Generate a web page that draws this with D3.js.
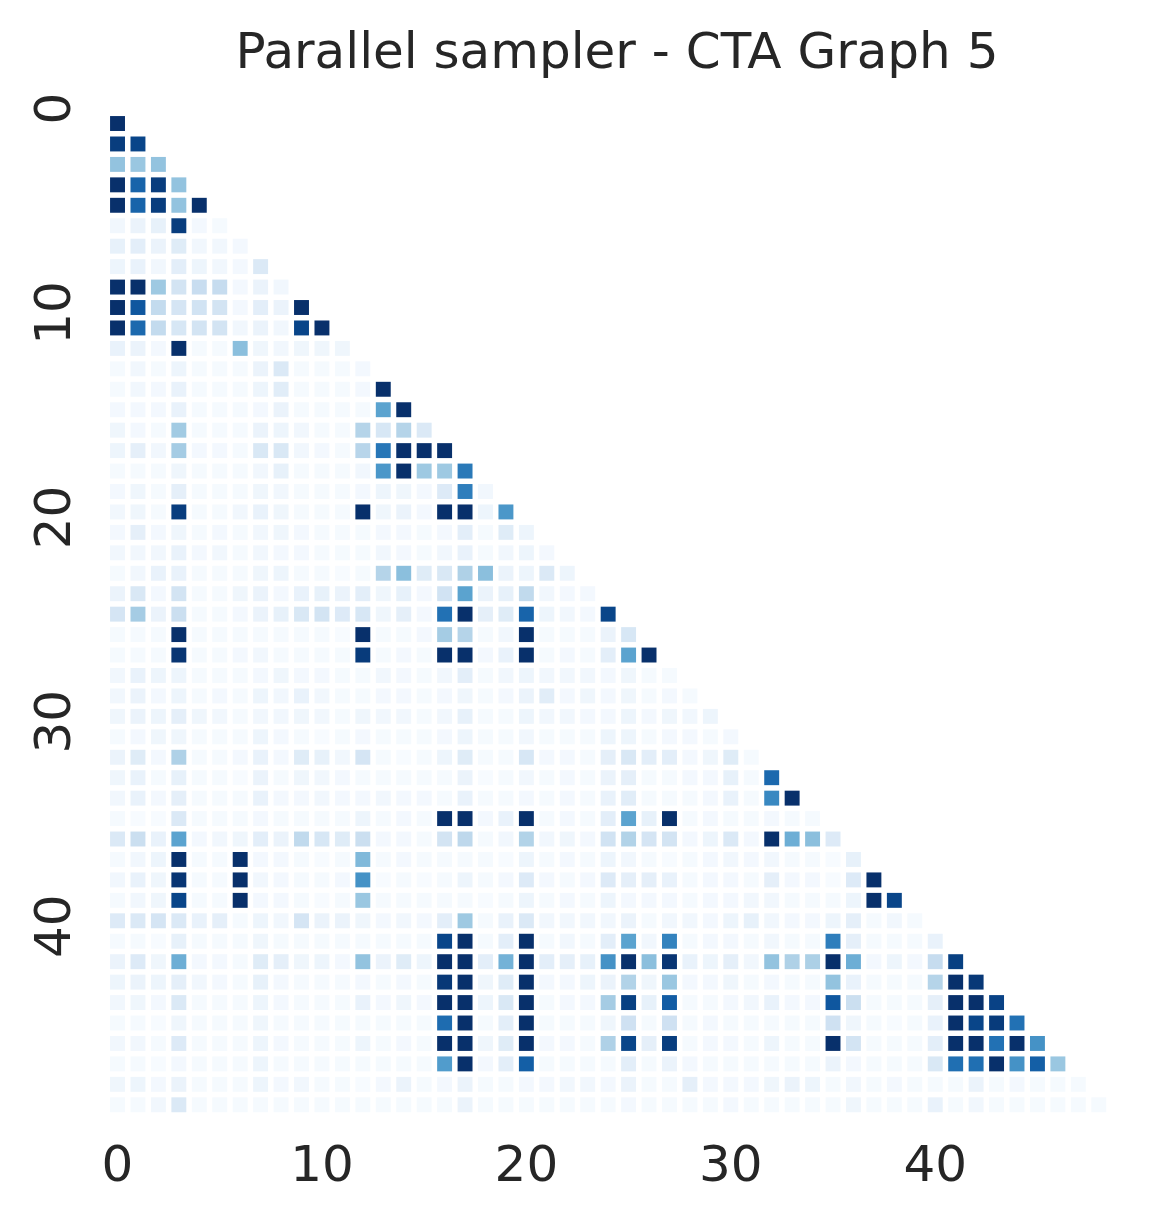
<!DOCTYPE html>
<html>
<head>
    <meta charset="utf-8" />
    <title>Parallel sampler - CTA Graph 5</title>
    <script src="https://d3js.org/d3.v7.min.js"></script>
    <style type='text/css'>
        body { margin: 0; background: #fff; }
        text { font-family: 'DejaVu Sans', sans-serif; fill: #262626; }
    </style>
</head>
<body>
<script>
    // lower triangle, row i has i+1 values (0 = white, 100 = darkest)
    var nodeIds = d3.range(49);
    var tickLabels = [0, 10, 20, 30, 40];
    var chartTitle = 'Parallel sampler - CTA Graph 5';
    var rowValues = [
        [100],
        [95, 92],
        [40, 38, 40],
        [100, 80, 95, 40],
        [100, 80, 95, 40, 100],
        [3, 6, 8, 95, 2, 1],
        [8, 10, 6, 12, 3, 3, 2],
        [5, 7, 3, 10, 5, 3, 2, 14],
        [100, 100, 37, 18, 23, 24, 2, 6, 3],
        [100, 85, 25, 17, 19, 18, 2, 10, 6, 100],
        [100, 78, 25, 16, 18, 18, 3, 6, 3, 92, 100],
        [7, 6, 2, 100, 1, 1, 42, 4, 3, 4, 4, 4],
        [1, 3, 1, 5, 1, 1, 1, 6, 14, 1, 1, 1, 2],
        [1, 3, 2, 7, 1, 1, 1, 5, 11, 1, 1, 1, 2, 100],
        [2, 2, 2, 7, 1, 1, 1, 2, 6, 1, 1, 1, 1, 55, 100],
        [4, 2, 1, 36, 1, 1, 1, 6, 5, 3, 1, 1, 30, 16, 30, 14],
        [5, 9, 3, 35, 2, 2, 1, 15, 15, 3, 2, 1, 29, 73, 100, 100, 100],
        [1, 1, 1, 4, 1, 1, 1, 3, 8, 1, 1, 1, 3, 60, 100, 37, 37, 72],
        [2, 4, 1, 9, 1, 1, 1, 4, 3, 1, 1, 1, 2, 5, 4, 2, 13, 70, 3],
        [3, 4, 1, 95, 1, 1, 3, 7, 4, 1, 1, 1, 100, 4, 6, 2, 100, 100, 5, 60],
        [2, 9, 2, 4, 1, 2, 1, 3, 4, 2, 1, 1, 1, 2, 2, 1, 2, 10, 1, 12, 5],
        [3, 3, 3, 7, 2, 3, 1, 3, 2, 2, 1, 1, 1, 3, 2, 1, 3, 7, 1, 3, 5, 2],
        [1, 3, 7, 7, 1, 1, 1, 4, 5, 1, 1, 0, 1, 30, 42, 12, 15, 32, 42, 6, 5, 14, 5],
        [6, 15, 2, 18, 1, 1, 4, 6, 2, 7, 8, 6, 10, 4, 8, 2, 19, 55, 6, 8, 26, 3, 2, 2],
        [17, 35, 6, 22, 1, 1, 2, 6, 8, 15, 18, 13, 16, 4, 9, 2, 75, 100, 9, 12, 80, 5, 3, 2, 92],
        [1, 1, 1, 100, 1, 1, 1, 1, 1, 1, 1, 0, 100, 1, 1, 2, 35, 30, 1, 3, 100, 1, 1, 1, 6, 16],
        [1, 1, 1, 98, 1, 1, 2, 3, 1, 1, 1, 1, 96, 1, 2, 1, 100, 100, 2, 7, 100, 1, 2, 1, 10, 55, 100],
        [3, 7, 5, 5, 1, 1, 1, 2, 4, 2, 2, 1, 1, 3, 2, 1, 3, 10, 1, 3, 5, 3, 3, 3, 2, 4, 1, 1],
        [3, 6, 2, 5, 1, 2, 1, 5, 3, 7, 3, 1, 1, 2, 2, 1, 2, 4, 1, 2, 6, 11, 2, 4, 2, 4, 1, 2, 1],
        [4, 6, 5, 9, 4, 3, 1, 3, 3, 4, 3, 1, 4, 3, 3, 1, 3, 8, 1, 1, 5, 3, 3, 2, 2, 5, 2, 4, 3, 5],
        [1, 2, 4, 4, 1, 1, 1, 5, 2, 1, 0, 1, 2, 1, 1, 1, 2, 5, 1, 1, 3, 1, 1, 1, 5, 5, 1, 2, 2, 1, 2],
        [6, 12, 2, 32, 1, 1, 2, 7, 2, 12, 8, 3, 17, 1, 0, 1, 5, 12, 1, 1, 16, 2, 2, 1, 9, 15, 10, 10, 2, 4, 12, 1],
        [4, 7, 1, 8, 1, 1, 0, 6, 1, 4, 3, 2, 1, 1, 1, 1, 1, 6, 0, 1, 3, 1, 2, 1, 6, 9, 1, 1, 2, 2, 8, 1, 78],
        [3, 7, 2, 9, 1, 1, 1, 7, 2, 2, 3, 2, 2, 3, 2, 2, 1, 7, 1, 1, 2, 1, 2, 1, 7, 11, 1, 1, 1, 2, 7, 1, 66, 100],
        [1, 0, 0, 14, 1, 1, 1, 2, 1, 1, 1, 1, 5, 1, 2, 1, 100, 100, 2, 7, 100, 1, 2, 1, 10, 55, 8, 100, 1, 2, 1, 1, 2, 1, 1],
        [14, 22, 7, 55, 2, 3, 4, 10, 6, 26, 16, 12, 22, 2, 2, 1, 18, 27, 1, 3, 31, 3, 4, 2, 19, 31, 17, 18, 2, 5, 14, 2, 100, 50, 42, 13],
        [1, 3, 5, 100, 1, 1, 100, 2, 2, 1, 0, 1, 45, 1, 2, 1, 1, 1, 1, 0, 5, 1, 2, 1, 5, 3, 1, 0, 1, 2, 3, 2, 3, 1, 1, 0, 8],
        [3, 7, 4, 98, 1, 1, 100, 3, 2, 1, 1, 2, 62, 0, 1, 0, 1, 5, 1, 2, 13, 2, 1, 2, 13, 9, 9, 7, 1, 2, 2, 1, 9, 2, 2, 0, 13, 100],
        [1, 3, 4, 92, 1, 1, 100, 2, 2, 1, 0, 1, 38, 1, 1, 1, 1, 1, 0, 1, 5, 1, 2, 1, 5, 2, 2, 2, 1, 2, 2, 3, 3, 1, 1, 1, 5, 100, 92],
        [13, 14, 17, 14, 7, 9, 1, 5, 3, 17, 6, 6, 4, 2, 3, 2, 10, 37, 1, 7, 14, 3, 3, 3, 3, 6, 1, 3, 3, 2, 5, 8, 3, 2, 2, 5, 9, 1, 3, 1],
        [1, 1, 0, 8, 1, 1, 1, 4, 1, 1, 1, 1, 1, 1, 1, 1, 92, 100, 1, 10, 100, 1, 3, 1, 10, 55, 3, 68, 1, 2, 2, 1, 3, 1, 1, 70, 9, 1, 1, 1, 7],
        [6, 13, 4, 50, 2, 2, 1, 12, 9, 4, 5, 2, 40, 6, 12, 5, 100, 100, 10, 48, 100, 10, 9, 8, 62, 100, 42, 98, 7, 5, 9, 3, 40, 32, 33, 100, 50, 2, 5, 2, 24, 94],
        [5, 6, 5, 9, 3, 2, 1, 8, 2, 1, 1, 1, 2, 1, 2, 1, 97, 100, 4, 12, 100, 2, 2, 5, 6, 31, 4, 38, 2, 2, 4, 1, 2, 1, 1, 40, 7, 1, 1, 1, 30, 100, 97],
        [3, 4, 2, 14, 1, 1, 1, 5, 2, 1, 1, 1, 7, 2, 4, 2, 100, 100, 5, 15, 100, 1, 2, 2, 35, 94, 8, 83, 1, 1, 2, 3, 7, 2, 2, 85, 22, 1, 1, 1, 9, 100, 100, 93],
        [1, 1, 0, 4, 1, 1, 1, 4, 1, 1, 1, 1, 1, 1, 1, 1, 77, 100, 1, 10, 100, 1, 1, 1, 4, 20, 1, 20, 1, 2, 1, 1, 1, 1, 1, 20, 4, 1, 0, 1, 7, 100, 92, 96, 75],
        [3, 3, 1, 13, 1, 1, 1, 5, 2, 1, 1, 1, 5, 1, 2, 1, 100, 100, 4, 12, 100, 2, 2, 1, 32, 92, 9, 95, 1, 2, 2, 1, 5, 1, 1, 100, 18, 1, 1, 1, 10, 100, 100, 75, 100, 62],
        [1, 1, 0, 2, 1, 1, 1, 5, 1, 1, 1, 1, 1, 1, 1, 1, 58, 100, 2, 10, 82, 1, 1, 1, 1, 10, 1, 6, 2, 1, 1, 1, 1, 1, 1, 6, 2, 1, 1, 1, 15, 76, 76, 100, 62, 82, 38],
        [4, 5, 2, 6, 1, 1, 1, 5, 2, 3, 1, 1, 0, 2, 6, 1, 2, 6, 1, 1, 2, 2, 3, 3, 2, 6, 1, 1, 9, 2, 2, 2, 4, 6, 5, 1, 3, 1, 2, 1, 1, 1, 6, 1, 2, 1, 1, 1],
        [1, 1, 3, 14, 1, 1, 1, 1, 1, 1, 1, 1, 1, 1, 1, 1, 1, 6, 1, 1, 1, 1, 1, 1, 1, 2, 1, 1, 1, 1, 2, 1, 1, 1, 1, 1, 4, 1, 1, 1, 7, 1, 3, 1, 1, 1, 1, 1, 1]
    ];

    var width = 1158
        , height = 1221
        , marginLeft = 107.3
        , marginTop = 113.3
        , size = 1001.7;

    var svg = d3.select('body').append('svg')
        .attr('width', width)
        .attr('height', height);

    var x = d3.scaleBand()
        .domain(nodeIds)
        .range([marginLeft, marginLeft + size])
        .paddingInner(0.27)
        .paddingOuter(0.135);

    var y = d3.scaleBand()
        .domain(nodeIds)
        .range([marginTop, marginTop + size])
        .paddingInner(0.27)
        .paddingOuter(0.135);

    var color = d3.scaleSequential(d3.interpolateBlues).domain([0, 100]);

    var cells = [];
    rowValues.forEach(function (row, i) {
        row.forEach(function (v, j) {
            cells.push({ r: i, c: j, v: v });
        });
    });

    svg.append('g').selectAll('rect')
        .data(cells)
        .enter()
        .append('rect')
        .attr('x', d => x(d.c))
        .attr('y', d => y(d.r))
        .attr('width', x.bandwidth())
        .attr('height', y.bandwidth())
        .attr('fill', d => color(d.v));

    // x axis
    var ax_x = d3.axisBottom(x)
        .tickValues(tickLabels)
        .tickSize(0)
        .tickPadding(30);

    var gx = svg.append('g')
        .attr('transform', `translate(0,${marginTop + size})`)
        .call(ax_x);
    gx.select('.domain').remove();
    gx.selectAll('text')
        .style('font-size', '50px')
        .attr('fill', '#262626');

    // y axis, rotated labels
    var ax_y = d3.axisLeft(y)
        .tickValues(tickLabels)
        .tickSize(0);

    var gy = svg.append('g')
        .attr('transform', `translate(${marginLeft},0)`)
        .call(ax_y);
    gy.select('.domain').remove();
    gy.selectAll('text')
        .attr('x', null)
        .attr('dy', '0.35em')
        .attr('text-anchor', 'middle')
        .attr('transform', `translate(${52 - marginLeft},-15) rotate(-90)`)
        .style('font-size', '50px')
        .attr('fill', '#262626');

    svg.append('text')
        .attr('x', 617)
        .attr('y', 68)
        .attr('text-anchor', 'middle')
        .style('font-size', '50px')
        .text(chartTitle);
</script>
</body>
</html>
